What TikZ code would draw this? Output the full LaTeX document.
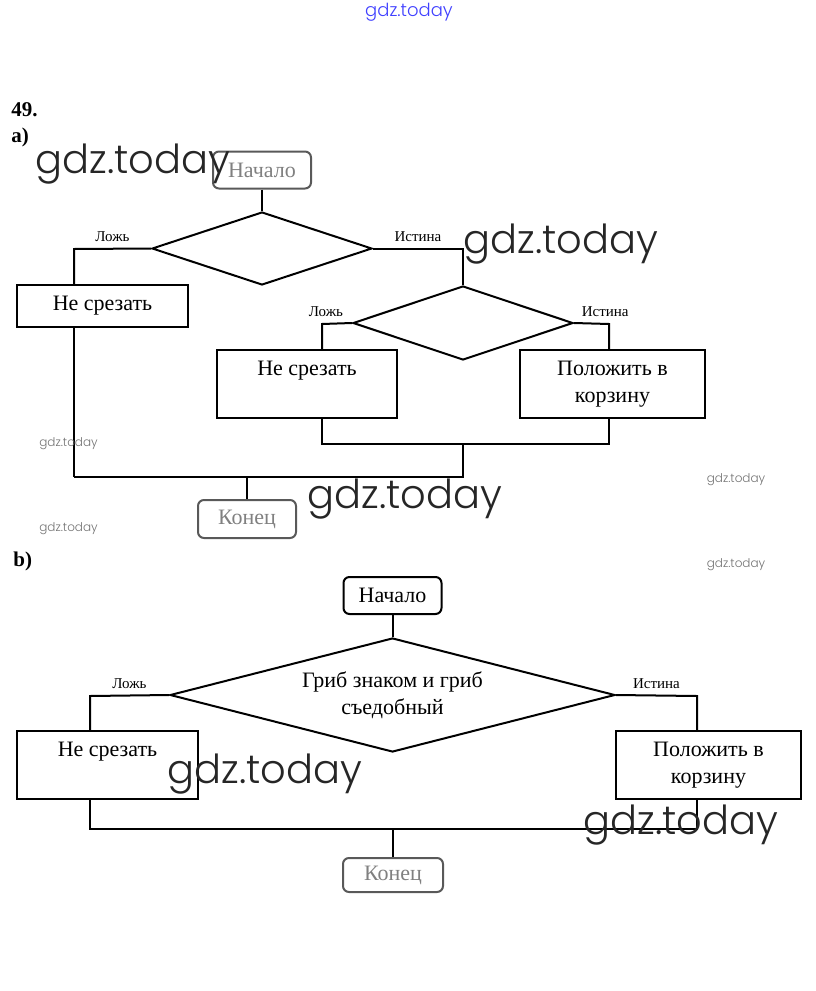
\documentclass[tikz,border=0pt]{standalone}
\usepackage{fontspec}
\setmainfont{Liberation Serif}
\IfFontExistsTF{Poppins Light}{\newfontfamily\wmfont{Poppins Light}}{\newfontfamily\wmfont{Poppins}}
\usetikzlibrary{shapes.geometric}

\begin{document}
\begin{tikzpicture}[x=1pt, y=-1pt, line width=2pt,
  txt/.style = {font=\fontsize{22}{27}\selectfont},
  term/.style = {draw, rounded corners=6pt, minimum width=98pt, minimum height=37pt, inner sep=0pt, txt},
  cond/.style = {draw, diamond, inner sep=0pt, align=center, txt},
  act/.style = {draw, rectangle, inner sep=0pt, align=center, txt},
  topline/.style = {text height=15pt, text depth=32pt},
  lbl/.style = {font=\fontsize{15}{17}\selectfont, above=3pt},
  faded/.style = {draw=black!65, text=black!50},
  wm/.style = {font=\wmfont\fontsize{40}{40}\selectfont, text=black!85, anchor=base},
  wmsmall/.style = {font=\wmfont\fontsize{12}{12}\selectfont, text=black!55}]

\useasboundingbox (0,0) rectangle (815,991);

\node[font=\bfseries\fontsize{21}{21}\selectfont, anchor=base west] (num) at (7,116) {49.};
\node[font=\bfseries\fontsize{21}{21}\selectfont, anchor=base west] (partA) at (7,142) {a)};
\node[font=\bfseries\fontsize{21}{21}\selectfont, anchor=base west] (partB) at (9,566) {b)};

\node[term, faded] (startA) at (262,170) {Начало};
\node[cond, minimum width=220pt, minimum height=73pt] (condA1) at (262,248.5) {};
\node[act, minimum width=171pt, minimum height=42pt] (cutA1) at (102.5,306) {Не срезать};
\node[cond, minimum width=220pt, minimum height=74pt] (condA2) at (463,323) {};
\node[act, topline, minimum width=180pt, minimum height=68pt] (cutA2) at (307,384) {Не срезать};
\node[act, minimum width=185pt, minimum height=68pt] (basketA) at (612.5,384) {Положить в\\корзину};
\node[term, faded, minimum height=38pt] (endA) at (247,519) {Конец};

\coordinate (jA1) at (74,249);
\coordinate (jA3) at (322,324);
\coordinate (jA4) at (609,324);
\coordinate (joinA) at (463,444);
\coordinate (mA) at (74,477);

\draw (startA) -- (condA1);
\draw (condA1.west) -- node[lbl, midway] {Ложь} (jA1) -- (jA1 |- cutA1.north);
\draw (condA1.east) -- node[lbl, midway] {Истина} (condA1.east -| condA2.north) -- (condA2.north);
\draw (condA2.west) -- node[lbl, pos=0.87] {Ложь} (jA3) -- (jA3 |- cutA2.north);
\draw (condA2.east) -- node[lbl, pos=0.89] {Истина} (jA4) -- (jA4 |- basketA.north);
\draw (jA3 |- cutA2.south) |- (joinA) -| (jA4 |- basketA.south);
\draw (jA1 |- cutA1.south) -- (mA);
\draw (joinA) |- (mA);
\draw (endA.north |- mA) -- (endA.north);

\node[term] (startB) at (392.5,595.5) {Начало};
\node[cond, minimum width=445pt, minimum height=114pt, shape aspect=3.9] (condB) at (392.5,695) {Гриб знаком и гриб\\съедобный};
\node[act, topline, minimum width=181pt, minimum height=68pt] (cutB) at (107.5,765) {Не срезать};
\node[act, minimum width=185pt, minimum height=68pt] (basketB) at (708.5,765) {Положить в\\корзину};
\node[term, faded, minimum width=100pt, minimum height=34pt] (endB) at (393,875) {Конец};

\coordinate (jB1) at (90,696);
\coordinate (jB2) at (697,696);
\coordinate (mB) at (90,829);

\draw (startB) -- (condB);
\draw (condB.west) -- node[lbl, midway] {Ложь} (jB1) -- (jB1 |- cutB.north);
\draw (condB.east) -- node[lbl, midway] {Истина} (jB2) -- (jB2 |- basketB.north);
\draw (jB1 |- cutB.south) -- (mB) -| (jB2 |- basketB.south);
\draw (endB.north |- mB) -- (endB.north);

\node[font=\wmfont\fontsize{18}{18}\selectfont, text=blue!75] (wmTop) at (409,12) {gdz.today};
\node[wm] (wm1) at (133,173) {gdz.today};
\node[wm] (wm2) at (561,253) {gdz.today};
\node[wm] (wm3) at (405,508) {gdz.today};
\node[wm] (wm4) at (265,783) {gdz.today};
\node[wm] (wm5) at (681,834) {gdz.today};
\node[wmsmall] (wm6) at (68.5,444) {gdz.today};
\node[wmsmall] (wm7) at (68.5,529) {gdz.today};
\node[wmsmall] (wm8) at (736,480) {gdz.today};
\node[wmsmall] (wm9) at (736,565) {gdz.today};

\end{tikzpicture}
\end{document}
